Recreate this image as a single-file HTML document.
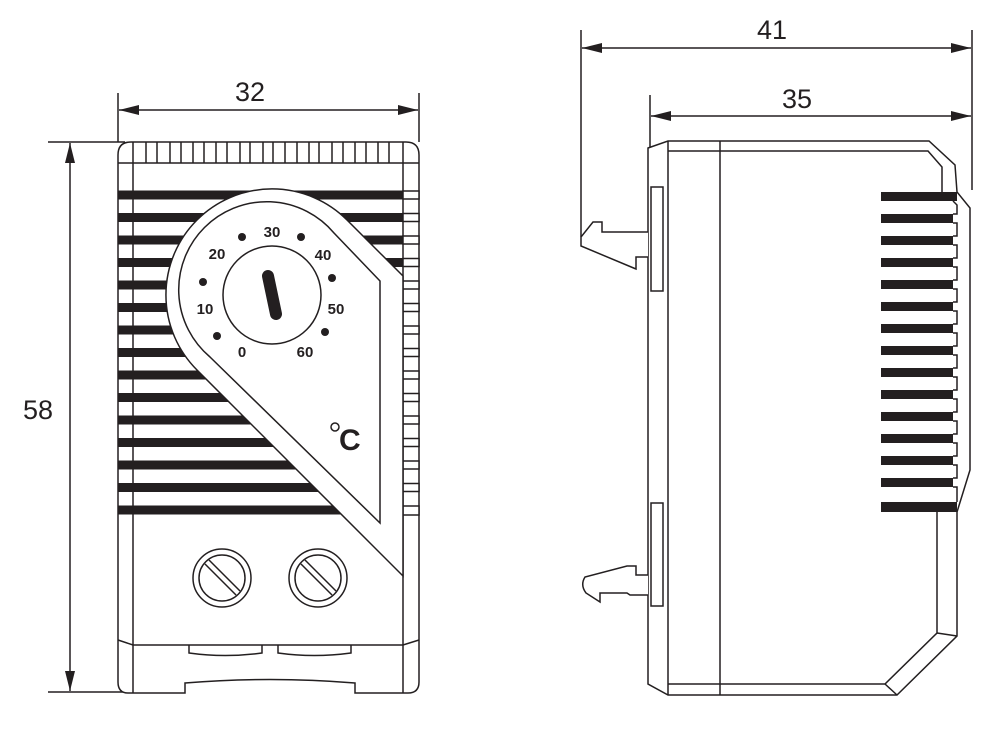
<!DOCTYPE html>
<html><head><meta charset="utf-8"><style>html,body{margin:0;padding:0;background:#fff}svg{display:block}</style></head><body>
<svg width="997" height="735" viewBox="0 0 997 735" xmlns="http://www.w3.org/2000/svg" font-family="Liberation Sans, sans-serif">
<defs>
<marker id="a" viewBox="0 0 20 10" refX="20" refY="5" markerWidth="20" markerHeight="10" markerUnits="userSpaceOnUse" orient="auto-start-reverse"><path d="M0,0 L20,5 L0,10 Z" fill="#231f20"/></marker>
</defs>
<g stroke="#231f20" fill="none" stroke-width="1.5">
<line x1="118" y1="93" x2="118" y2="142"/><line x1="419" y1="93" x2="419" y2="142"/>
<line x1="119" y1="110" x2="418" y2="110" marker-start="url(#a)" marker-end="url(#a)"/>
<line x1="48" y1="142" x2="125" y2="142"/><line x1="48" y1="692" x2="140" y2="692"/>
<line x1="70" y1="143" x2="70" y2="691" marker-start="url(#a)" marker-end="url(#a)"/>
<line x1="581" y1="30" x2="581" y2="237"/><line x1="972" y1="30" x2="972" y2="190"/>
<line x1="582" y1="48" x2="971" y2="48" marker-start="url(#a)" marker-end="url(#a)"/>
<line x1="650" y1="95" x2="650" y2="148"/>
<line x1="651" y1="116" x2="971" y2="116" marker-start="url(#a)" marker-end="url(#a)"/>
</g>
<g fill="#231f20" font-size="27">
<text x="250" y="101" text-anchor="middle">32</text>
<text x="38" y="419" text-anchor="middle">58</text>
<text x="772" y="39" text-anchor="middle">41</text>
<text x="797" y="108" text-anchor="middle">35</text>
</g>

<!-- LEFT VIEW -->
<g stroke="#231f20" fill="none" stroke-width="1.5">
<path d="M118,640 L118,155 Q118,142 131,142 L406,142 Q419,142 419,155 L419,640 L419,682 Q419,693 408,693 L355,693 L355,683 Q270,676 185,683 L185,693 L128,693 Q118,693 118,682 Z" fill="#fff"/>
<line x1="118" y1="163" x2="419" y2="163"/>
<line x1="133" y1="142" x2="133" y2="693"/>
<line x1="403" y1="142" x2="403" y2="693"/>
<path d="M118,640 L133,645 L403,645 L419,640"/>
<path d="M189,645 L189,653 Q225,658 262,653 L262,645"/>
<path d="M278,645 L278,653 Q314,658 351,653 L351,645"/>
</g>
<g stroke="#231f20" stroke-width="1.5">
<line x1="146" y1="142" x2="146" y2="163"/><line x1="157" y1="142" x2="157" y2="163"/>
<line x1="170" y1="142" x2="170" y2="163"/><line x1="181" y1="142" x2="181" y2="163"/>
<line x1="193" y1="142" x2="193" y2="163"/><line x1="204" y1="142" x2="204" y2="163"/>
<line x1="216" y1="142" x2="216" y2="163"/><line x1="227" y1="142" x2="227" y2="163"/>
<line x1="240" y1="142" x2="240" y2="163"/><line x1="250" y1="142" x2="250" y2="163"/>
<line x1="263" y1="142" x2="263" y2="163"/><line x1="273" y1="142" x2="273" y2="163"/>
<line x1="285" y1="142" x2="285" y2="163"/><line x1="297" y1="142" x2="297" y2="163"/>
<line x1="309" y1="142" x2="309" y2="163"/><line x1="319" y1="142" x2="319" y2="163"/>
<line x1="332" y1="142" x2="332" y2="163"/><line x1="343" y1="142" x2="343" y2="163"/>
<line x1="355" y1="142" x2="355" y2="163"/><line x1="366" y1="142" x2="366" y2="163"/>
<line x1="378" y1="142" x2="378" y2="163"/><line x1="389" y1="142" x2="389" y2="163"/>
</g>
<g fill="#231f20">
<rect x="118" y="190.5" width="285" height="9"/><rect x="118" y="213" width="285" height="9"/>
<rect x="118" y="235.5" width="285" height="9"/><rect x="118" y="258" width="285" height="9"/>
<rect x="118" y="280.5" width="285" height="9"/><rect x="118" y="303" width="285" height="9"/>
<rect x="118" y="325.5" width="285" height="9"/><rect x="118" y="348" width="285" height="9"/>
<rect x="118" y="370.5" width="285" height="9"/><rect x="118" y="393" width="285" height="9"/>
<rect x="118" y="415.5" width="285" height="9"/><rect x="118" y="438" width="285" height="9"/>
<rect x="118" y="460.5" width="285" height="9"/><rect x="118" y="483" width="285" height="9"/>
<rect x="118" y="505.5" width="285" height="9"/>
</g>
<g stroke="#231f20" stroke-width="1.5" fill="#fff">
<rect x="403" y="191" width="16" height="8"/><rect x="403" y="213.5" width="16" height="8"/>
<rect x="403" y="236" width="16" height="8"/><rect x="403" y="258.5" width="16" height="8"/>
<rect x="403" y="281" width="16" height="8"/><rect x="403" y="303.5" width="16" height="8"/>
<rect x="403" y="326" width="16" height="8"/><rect x="403" y="348.5" width="16" height="8"/>
<rect x="403" y="371" width="16" height="8"/><rect x="403" y="393.5" width="16" height="8"/>
<rect x="403" y="416" width="16" height="8"/><rect x="403" y="438.5" width="16" height="8"/>
<rect x="403" y="461" width="16" height="8"/><rect x="403" y="483.5" width="16" height="8"/>
<rect x="403" y="506" width="16" height="9"/>
</g>
<g stroke="#231f20" stroke-width="1.5" fill="#fff">
<path d="M403,276 L347,220 A106,106 0 1 0 197,370 L403,576 Z"/>
<path d="M380,281 L334,233 A88,88 0 1 0 210,357 L380,523 Z"/>
<circle cx="272" cy="295" r="49"/>
</g>
<line x1="268" y1="276" x2="276" y2="314" stroke="#231f20" stroke-width="12" stroke-linecap="round"/>
<g fill="#231f20">
<circle cx="242" cy="237" r="4"/><circle cx="301" cy="237" r="4"/>
<circle cx="203" cy="282" r="4"/><circle cx="332" cy="278" r="4"/>
<circle cx="217" cy="336" r="4"/><circle cx="325" cy="332" r="4"/>
</g>
<g fill="#231f20" font-size="15" font-weight="bold" text-anchor="middle">
<text x="272" y="237">30</text><text x="217" y="259">20</text><text x="323" y="260">40</text>
<text x="205" y="314">10</text><text x="336" y="314">50</text>
<text x="242" y="357">0</text><text x="305" y="357">60</text>
</g>
<text x="339" y="450" font-size="30" font-weight="bold" fill="#231f20">C</text>
<circle cx="335" cy="427" r="4" fill="none" stroke="#231f20" stroke-width="1.5"/>
<g stroke="#231f20" stroke-width="1.5" fill="#fff">
<circle cx="222" cy="578" r="29"/><circle cx="222" cy="578" r="23"/>
<circle cx="318" cy="578" r="29"/><circle cx="318" cy="578" r="23"/>
<path d="M205,564 L236,595 M209,560 L240,591"/>
<path d="M301,564 L332,595 M305,560 L336,591"/>
</g>

<!-- RIGHT VIEW -->
<g stroke="#231f20" stroke-width="1.5" fill="#fff">
<path d="M648,148 L668,141 L929,141 L955,165 L957,192 L970,208 L970,470 L957,512 L957,636 L897,695 L668,695 L648,684 Z"/>
<rect x="651" y="187" width="12" height="104"/>
<rect x="651" y="503" width="12" height="103"/>
<path d="M648,232 L602,232 L602,222 L593,222 L581,237 L581,246 L636,269 L636,257 L648,257"/>
<path d="M648,575 L636,575 L636,566 L627,566 L585,577 Q580,585 586,593 L600,602 L600,593 L627,593 L630,595 L648,595"/>
</g>
<g stroke="#231f20" stroke-width="1.5" fill="none">
<path d="M668,151 L928,151 L942,167 L942,192"/>
<line x1="668" y1="141" x2="668" y2="695"/>
<line x1="720" y1="141" x2="720" y2="695"/>
<path d="M668,684 L885,684 L937,633 L937,512"/>
<line x1="937" y1="633" x2="957" y2="636"/>
<line x1="885" y1="684" x2="897" y2="695"/>
</g>
<g fill="#231f20">
<rect x="881" y="192" width="76" height="9"/><rect x="881" y="214" width="72" height="9"/>
<rect x="881" y="236" width="72" height="9"/><rect x="881" y="258" width="72" height="9"/>
<rect x="881" y="280" width="72" height="9"/><rect x="881" y="302" width="72" height="9"/>
<rect x="881" y="324" width="72" height="9"/><rect x="881" y="346" width="72" height="9"/>
<rect x="881" y="368" width="72" height="9"/><rect x="881" y="390" width="72" height="9"/>
<rect x="881" y="412" width="72" height="9"/><rect x="881" y="434" width="72" height="9"/>
<rect x="881" y="456" width="72" height="9"/><rect x="881" y="478" width="72" height="9"/>
<rect x="881" y="502" width="76" height="10"/>
</g>
<g stroke="#231f20" stroke-width="1.5" fill="none">
<path d="M953,201 L957,205 L957,214 L953,214 M953,223 L957,223 L957,236 L953,236 M953,245 L957,245 L957,258 L953,258 M953,267 L957,267 L957,280 L953,280 M953,289 L957,289 L957,302 L953,302 M953,311 L957,311 L957,324 L953,324 M953,333 L957,333 L957,346 L953,346 M953,355 L957,355 L957,368 L953,368 M953,377 L957,377 L957,390 L953,390 M953,399 L957,399 L957,412 L953,412 M953,421 L957,421 L957,434 L953,434 M953,443 L957,443 L957,456 L953,456 M953,465 L957,465 L957,478 L953,478 M953,487 L957,487 L957,502"/>
</g>
</svg>
</body></html>
